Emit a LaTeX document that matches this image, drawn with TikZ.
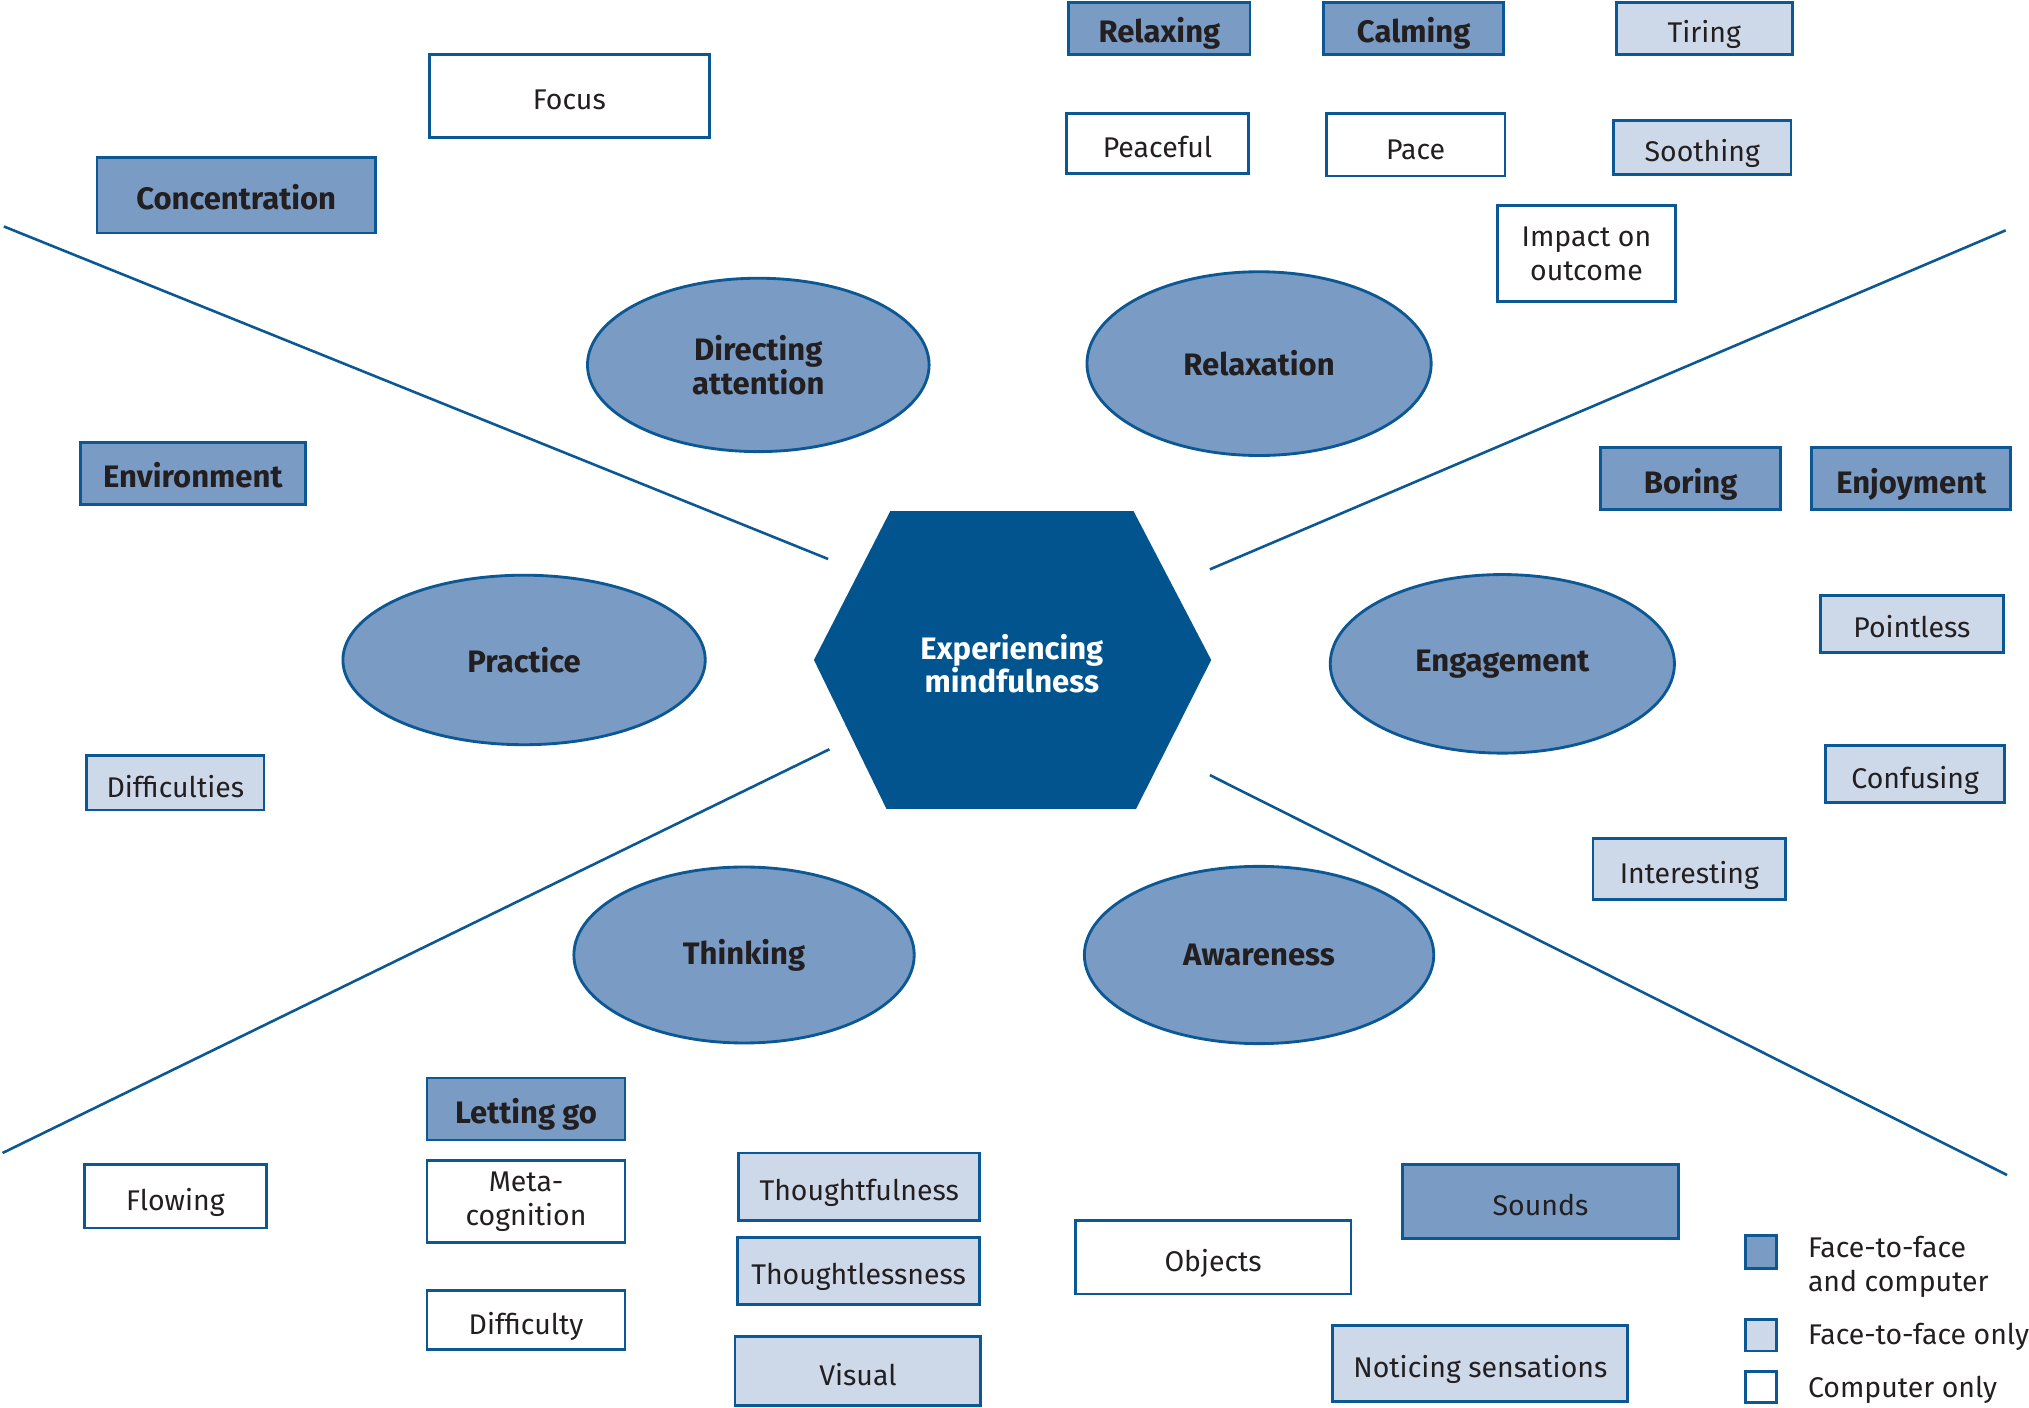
\documentclass[tikz,border=0pt]{standalone}
\usepackage{fontspec}
\setmainfont{Fira Sans}
\usetikzlibrary{shapes.geometric}
\definecolor{bl}{HTML}{0B5894}
\definecolor{hexc}{HTML}{02548E}
\definecolor{midf}{HTML}{7A9BC3}
\definecolor{lightf}{HTML}{CDD8E9}
\definecolor{txt}{HTML}{231F20}
\tikzset{
  base/.style={draw=bl, line width=2.2pt, inner sep=0pt, align=center, text=txt,
    text height=22pt, text depth=0pt, font=\fontsize{22}{26}\selectfont},
  boxw/.style={base, fill=white},
  boxm/.style={base, fill=midf},
  boxl/.style={base, fill=lightf},
  ml/.style={text height=, text depth=},
  bf/.style={font=\fontsize{24}{26}\selectfont\bfseries},
  theme/.style={ellipse, draw=bl, line width=2.2pt, fill=midf, inner sep=0pt, align=center,
    text=txt, font=\fontsize{24}{26}\selectfont\bfseries},
  spoke/.style={draw=bl, line width=2pt},
  leg/.style={anchor=west, align=left, text=txt, inner sep=0pt, font=\fontsize{22}{26}\selectfont}
}
\newcommand{\bx}[6]{\node[#1, minimum width=#4, minimum height=#5] (#2) at (#3) {#6};}
\begin{document}
\begin{tikzpicture}[x=1pt,y=-1pt]
\useasboundingbox (0,0) rectangle (1568,1088);
\fill[white] (0,0) rectangle (1568,1088);
% spokes
\coordinate (ula) at (3,175);   \coordinate (ulb) at (640,432);
\coordinate (ura) at (935,440); \coordinate (urb) at (1550,178);
\coordinate (lla) at (641,579); \coordinate (llb) at (2,891);
\coordinate (lra) at (935,599); \coordinate (lrb) at (1551,908);
\draw[spoke] (ula) -- (ulb);
\draw[spoke] (ura) -- (urb);
\draw[spoke] (lla) -- (llb);
\draw[spoke] (lra) -- (lrb);
% hexagon
\coordinate (h1) at (688,395); \coordinate (h2) at (876,395); \coordinate (h3) at (936,510);
\coordinate (h4) at (878,625); \coordinate (h5) at (685,625); \coordinate (h6) at (629,510);
\fill[hexc] (h1) -- (h2) -- (h3) -- (h4) -- (h5) -- (h6) -- cycle;
\node[align=center, text=white, font=\fontsize{24}{26}\selectfont\bfseries] (hex) at (782,513) {Experiencing\\mindfulness};
% themes
\node[theme, minimum width=264, minimum height=134] (dir) at (586,282) {Directing\\attention};
\node[theme, minimum width=266, minimum height=142] (rel) at (973,281) {Relaxation};
\node[theme, minimum width=280, minimum height=131] (pra) at (405,510) {Practice};
\node[theme, minimum width=266, minimum height=138] (eng) at (1161,513) {Engagement};
\node[theme, minimum width=263, minimum height=136] (thi) at (575,738) {Thinking};
\node[theme, minimum width=270, minimum height=137] (awa) at (973,738) {Awareness};
% boxes
\bx{boxw}{focus}{440,74}{216}{64}{Focus}
\bx{boxm,bf}{conc}{182.5,151}{215}{58}{Concentration}
\bx{boxm,bf}{relx}{896,22}{140}{40}{Relaxing}
\bx{boxm,bf}{calm}{1092.5,22}{139}{40}{Calming}
\bx{boxl}{tir}{1317,22}{136}{40}{Tiring}
\bx{boxw}{peace}{894.5,111}{141}{46}{Peaceful}
\bx{boxw}{pace}{1094,112}{138}{48}{Pace}
\bx{boxl}{sooth}{1315.5,114}{137}{42}{Soothing}
\bx{boxw,ml}{impact}{1226,196}{138}{74}{Impact on\\outcome}
\bx{boxm,bf}{env}{149,366}{174}{48}{Environment}
\bx{boxm,bf}{bor}{1306.5,370}{139}{48}{Boring}
\bx{boxm,bf}{enj}{1477,370}{154}{48}{Enjoyment}
\bx{boxl}{point}{1477.5,482}{141}{44}{Pointless}
\bx{boxl}{conf}{1480,598}{138}{44}{Confusing}
\bx{boxl}{inter}{1305.5,671.5}{149}{47}{Interesting}
\bx{boxl}{diffs}{135.5,605}{137}{42}{Difficulties}
\bx{boxm,bf}{letgo}{406.5,857}{153}{48}{Letting go}
\bx{boxw}{flow}{135.5,924.5}{141}{49}{Flowing}
\bx{boxw,ml}{meta}{406.5,928.5}{153}{63}{Meta-\\cognition}
\bx{boxw}{diff}{406.5,1020}{153}{46}{Difficulty}
\bx{boxl}{tful}{664,917}{186}{52}{Thoughtfulness}
\bx{boxl}{tless}{663.5,982}{187}{52}{Thoughtlessness}
\bx{boxl}{vis}{663,1059.5}{190}{53}{Visual}
\bx{boxw}{obj}{937.5,971.5}{213}{57}{Objects}
\bx{boxm}{snd}{1190.5,928.5}{213}{57}{Sounds}
\bx{boxl}{noti}{1144,1053.5}{228}{59}{Noticing sensations}
% legend
\node[boxm, minimum width=24, minimum height=25, text height=0pt] (lg1) at (1361,967.5) {};
\node[boxl, minimum width=24, minimum height=24, text height=0pt] (lg2) at (1361,1032) {};
\node[boxw, minimum width=24, minimum height=24, text height=0pt] (lg3) at (1361,1072) {};
\node[leg] (lt1) at (1397,979) {Face-to-face\\and computer};
\node[leg] (lt2) at (1397,1033) {Face-to-face only};
\node[leg] (lt3) at (1397,1074) {Computer only};
\end{tikzpicture}
\end{document}
